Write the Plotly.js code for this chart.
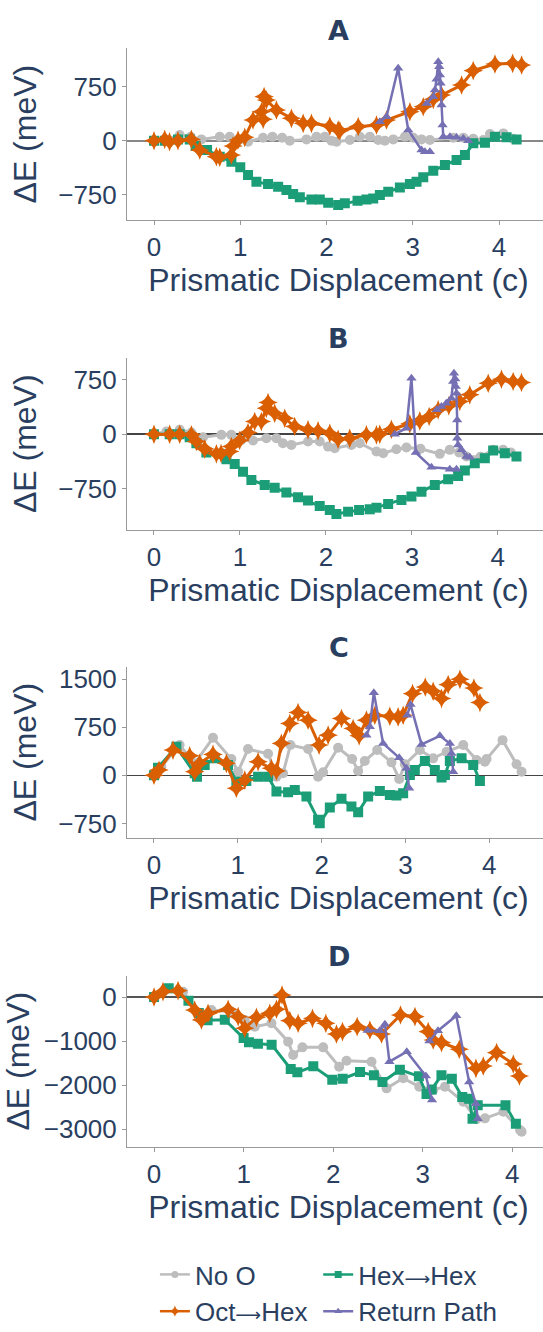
<!DOCTYPE html>
<html>
<head>
<meta charset="utf-8">
<script src="https://cdn.plot.ly/plotly-3.0.1.min.js"></script>
<style>
html,body{margin:0;padding:0;overflow:hidden;background:#fff;}
#chart{width:550px;height:1400px;}
</style>
</head>
<body>
<div id="chart"></div>
<script>
// ---------- Series names ----------
const ARW = "<span style='font-family:DejaVu Sans;font-size:18px'>\u27F6</span>";
const seriesNames = ["No O", "Hex" + ARW + "Hex", "Oct" + ARW + "Hex", "Return Path"];
const panelLabels = ["A", "B", "C", "D"];

// ---------- Panel A ----------
const A_noO_x = [0, 0.143, 0.298, 0.425, 0.549, 0.762, 0.878, 0.994, 1.09, 1.264, 1.373, 1.485, 1.574, 1.767, 1.883, 1.98, 2.057, 2.115, 2.27, 2.386, 2.502, 2.599, 2.676, 2.773, 2.908, 3.005, 3.101, 3.198, 3.469, 3.585, 3.701, 3.817, 3.894, 4.049, 4.165];
const A_noO_y = [0, 10, 78, 55, 18, 55, 55, 18, -14, 41, 55, 41, 0, 18, 55, 55, 0, -14, 9, 55, 55, 9, 0, 18, 55, 41, 18, 9, 41, 41, 28, 9, 92, 101, 28];
const A_hex_x = [0, 0.124, 0.278, 0.414, 0.483, 0.615, 0.762, 0.897, 1.0, 1.09, 1.187, 1.322, 1.439, 1.535, 1.613, 1.69, 1.825, 1.922, 2.019, 2.135, 2.212, 2.359, 2.463, 2.541, 2.618, 2.715, 2.85, 2.966, 3.043, 3.121, 3.237, 3.372, 3.507, 3.604, 3.701, 3.836, 3.952, 4.087, 4.203];
const A_hex_y = [0, 0, 18, 18, -74, -129, -221, -291, -369, -475, -567, -600, -636, -683, -738, -784, -812, -812, -858, -890, -867, -830, -812, -798, -752, -706, -646, -600, -567, -507, -415, -337, -267, -198, -37, -28, 55, 46, 18];
const A_oct_x = [0, 0.124, 0.18, 0.278, 0.433, 0.53, 0.723, 0.762, 0.897, 0.916, 0.974, 1.052, 1.148, 1.245, 1.265, 1.276, 1.303, 1.419, 1.593, 1.729, 1.825, 2.038, 2.135, 2.154, 2.367, 2.579, 2.695, 2.966, 3.121, 3.237, 3.333, 3.565, 3.70, 3.952, 4.157, 4.261];
const A_oct_y = [0, 18, -14, 0, 18, -129, -221, -230, -198, -74, 9, 46, 286, 401, 295, 609, 563, 424, 309, 240, 240, 203, 148, 138, 194, 217, 286, 401, 470, 572, 632, 770, 969, 1061, 1070, 1047];
const A_ret_x = [2.618, 2.695, 2.83, 2.947, 3.101, 3.14, 3.198, null, 3.16, 3.237, 3.256, 3.275, 3.295, 3.306, 3.314, 3.322, 3.333, 3.345, 3.353, 3.43, 3.507, 3.585, 3.643];
const A_ret_y = [263, 332, 1001, 148, -129, -152, -152, null, 516, 609, 701, 850, 1093, 1024, 908, 793, 494, 217, 55, 55, 46, 32, 0];

// ---------- Panel B ----------
const B_noO_x = [0, 0.144, 0.299, 0.435, 0.57, 0.784, 0.9, 1.016, 1.152, 1.307, 1.424, 1.5, 1.598, 1.792, 1.928, 2.025, 2.103, 2.296, 2.394, 2.588, 2.666, 2.82, 2.937, 3.1, 3.325, 3.441, 3.55, 3.635, 3.8, 3.946, 4.062, 4.15];
const B_noO_y = [0, 37, 60, 23, -41, -9, -9, -78, -87, -55, -55, -124, -147, -101, -101, -170, -193, -147, -124, -238, -261, -206, -183, -200, -270, -215, -250, -307, -308, -215, -215, -250];
const B_hex_x = [0, 0.182, 0.299, 0.415, 0.493, 0.609, 0.764, 0.842, 0.939, 1.036, 1.133, 1.288, 1.404, 1.54, 1.676, 1.792, 1.928, 2.045, 2.122, 2.258, 2.386, 2.51, 2.588, 2.724, 2.879, 2.995, 3.112, 3.267, 3.422, 3.538, 3.616, 3.732, 3.849, 3.946, 4.081, 4.217];
const B_hex_y = [0, 0, 0, -41, -124, -252, -270, -344, -408, -514, -628, -697, -734, -802, -867, -912, -986, -1041, -1096, -1064, -1041, -1032, -1009, -958, -903, -857, -789, -697, -619, -573, -500, -399, -330, -225, -261, -307];
const B_oct_x = [0, 0.182, 0.299, 0.435, 0.493, 0.59, 0.726, 0.78, 0.881, 0.9, 0.997, 1.094, 1.172, 1.249, 1.307, 1.327, 1.404, 1.521, 1.637, 1.792, 1.909, 2.045, 2.142, 2.277, 2.471, 2.588, 2.627, 2.762, 2.976, 3.092, 3.201, 3.306, 3.43, 3.558, 3.674, 3.888, 4.043, 4.178, 4.275];
const B_oct_y = [0, 0, 0, -9, -101, -202, -270, -265, -238, -170, -87, 23, 174, 174, 358, 436, 289, 220, 105, 60, 46, 14, -69, -55, -9, -9, 0, 69, 142, 183, 243, 335, 390, 449, 541, 701, 756, 724, 711];
const B_ret_x = [2.801, 2.937, 2.995, 3.046, 3.228, 3.441, 3.519, null, 3.29, 3.344, 3.40, 3.46, 3.48, 3.49, 3.505, 3.511, 3.519, 3.527, 3.527, 3.538, 3.577, 3.635, 3.674];
const B_ret_y = [0, 83, 770, -252, -454, -481, -481, null, 335, 380, 426, 495, 724, 839, 760, 656, 564, 197, -55, -147, -215, -307, -316];

// ---------- Panel C ----------
const C_noO_x = [0, 0.088, 0.306, 0.486, 0.704, 0.923, 1.003, 1.122, 1.361, 1.461, 1.54, 1.628, 1.839, 1.958, 2.018, 2.197, 2.364, 2.436, 2.515, 2.663, 2.834, 2.926, 2.993, 3.172, 3.331, 3.491, 3.69, 3.849, 3.948, 3.968, 4.159, 4.326, 4.386];
const C_noO_y = [0, 134, 471, 186, 584, 253, 57, 409, 336, -21, 31, 471, 409, -21, 47, 429, 253, 67, 222, 393, 202, -57, 171, 393, 264, 367, 471, 238, 212, 253, 548, 171, 57];
const C_hex_x = [0, 0.048, 0.267, 0.486, 0.513, 0.605, 0.724, 0.884, 0.983, 1.102, 1.242, 1.361, 1.461, 1.6, 1.68, 1.819, 1.958, 1.978, 2.098, 2.237, 2.356, 2.436, 2.555, 2.695, 2.814, 2.893, 2.973, 3.053, 3.112, 3.232, 3.351, 3.431, 3.471, 3.53, 3.67, 3.809, 3.889];
const C_hex_y = [0, 119, 445, 31, -21, 160, 264, 160, -98, -88, -21, -21, -253, -264, -228, -331, -693, -745, -502, -367, -486, -574, -331, -243, -305, -315, -279, 5, 83, 222, 83, -36, 5, 222, 264, 160, -88];
const C_oct_x = [0, 0.06, 0.227, 0.426, 0.486, 0.545, 0.704, 0.864, 0.983, 1.083, 1.242, 1.401, 1.461, 1.52, 1.62, 1.719, 1.839, 1.97, 2.078, 2.237, 2.376, 2.448, 2.535, 2.635, 2.814, 2.913, 2.973, 3.085, 3.237, 3.331, 3.431, 3.51, 3.65, 3.817, 3.889];
const C_oct_y = [0, 83, 393, 305, 57, 186, 326, 186, -202, -72, 212, 109, 67, 497, 807, 978, 859, 471, 626, 884, 729, 615, 859, 936, 921, 910, 936, 1272, 1376, 1309, 1195, 1412, 1495, 1360, 1133];
const C_ret_x = [2.535, 2.575, 2.623, 2.734, 2.926, 3.013, 3.045, null, 3.021, 3.061, 3.192, 3.411, 3.53, 3.55, 3.57];
const C_ret_y = [626, 755, 1288, 497, 274, 109, -202, null, 936, 1102, 481, 615, 497, 341, 57];

// ---------- Panel D ----------
const D_noO_x = [0, 0.1, 0.324, 0.547, 0.641, 0.864, 1.013, 1.125, 1.311, 1.497, 1.553, 1.657, 1.888, 2.067, 2.149, 2.428, 2.596, 2.782, 2.961, 3.117, 3.248, 3.453, 3.601, 3.695, 3.9, 4.086, 4.104];
const D_noO_y = [0, 121, 121, -523, -295, -333, -523, -674, -598, -1015, -1318, -1144, -1144, -1583, -1447, -1470, -2076, -1848, -2038, -2114, -2038, -2379, -2780, -2758, -2606, -3023, -3061];
const D_hex_x = [0, 0.164, 0.384, 0.5, 0.598, 0.79, 1.0, 1.06, 1.16, 1.313, 1.526, 1.6, 1.778, 1.99, 2.106, 2.3, 2.455, 2.55, 2.745, 2.957, 3.042, 3.1, 3.209, 3.325, 3.441, 3.518, 3.556, 3.614, 3.924, 4.04];
const D_hex_y = [0, 198, -84, -364, -530, -515, -932, -1030, -1061, -1083, -1636, -1712, -1576, -1879, -1856, -1705, -1780, -1932, -1652, -1803, -2204, -2100, -1780, -1856, -2273, -2311, -2765, -2462, -2462, -2879];
const D_oct_x = [0, 0.1, 0.268, 0.454, 0.529, 0.603, 0.827, 0.939, 1.013, 1.143, 1.292, 1.367, 1.429, 1.516, 1.609, 1.769, 1.918, 2.037, 2.104, 2.268, 2.41, 2.54, 2.752, 2.913, 3.061, 3.117, 3.21, 3.408, 3.594, 3.676, 3.825, 4.011, 4.079];
const D_oct_y = [0, 121, 144, -295, -523, -371, -280, -447, -712, -462, -371, -280, 45, -538, -598, -485, -598, -841, -788, -674, -750, -841, -409, -447, -788, -977, -1038, -1189, -1621, -1568, -1265, -1523, -1795];
const D_ret_x = [2.385, 2.52, 2.578, 2.628, 2.822, 3.035, 3.104, null, 3.075, 3.17, 3.375, 3.518, 3.594, 3.614];
const D_ret_y = [-764, -765, -622, -1470, -1243, -1796, -2341, null, -1000, -765, -424, -1932, -2425, -2765];

// ---------- Styling ----------
const colors = ["#bdbdbd", "#1b9e77", "#d95f02", "#7570b3"];
const symbols = ["circle", "square", "star-diamond", "triangle-up"];
const msizes = [10, 10, 14, 9];
const lwidths = [3, 3, 3, 2.5];
const legendMsizes = [7, 7, 8, 7];
const legendIds = ["legend", "legend2", "legend", "legend2"];
const textColor = "#2a3f5f";
const fontFam = "Liberation Sans, Arial, sans-serif";

const H = 1400; // layout height; the visible window is the top 1332 px
const py = v => 1 - v / H;

// pixel positions (from top) of each panel: [axis bottom, axis top], title centre
const panels = [
  {xs:[A_noO_x, A_hex_x, A_oct_x, A_ret_x], ys:[A_noO_y, A_hex_y, A_oct_y, A_ret_y],
   pix:[220, 48.3], xr:[-0.313, 4.590], yr:[-1097, 1278], dt:750, zc:"#888", zw:2, ty:31},
  {xs:[B_noO_x, B_hex_x, B_oct_x, B_ret_x], ys:[B_noO_y, B_hex_y, B_oct_y, B_ret_y],
   pix:[530, 357.5], xr:[-0.314, 4.607], yr:[-1316, 1054], dt:750, zc:"#444", zw:1.5, ty:339},
  {xs:[C_noO_x, C_hex_x, C_oct_x, C_ret_x], ys:[C_noO_y, C_hex_y, C_oct_y, C_ret_y],
   pix:[837.7, 666.7], xr:[-0.322, 4.725], yr:[-972, 1692], dt:750, zc:"#444", zw:1.5, ty:647},
  {xs:[D_noO_x, D_hex_x, D_oct_x, D_ret_x], ys:[D_noO_y, D_hex_y, D_oct_y, D_ret_y],
   pix:[1146.7, 975.7], xr:[-0.302, 4.421], yr:[-3402, 484], dt:1000, zc:"#555", zw:1.5, ty:956}
];

const traces = [];
const legendBase = {
  orientation: "v", xanchor: "left", y: py(1251), yanchor: "top",
  font: {size: 26, color: textColor, family: fontFam}, tracegroupgap: 0,
  bgcolor: "rgba(0,0,0,0)"
};
const layout = {
  width: 550, height: H,
  margin: {l: 127, r: 0, t: 0, b: 0},
  paper_bgcolor: "#fff", plot_bgcolor: "#fff",
  font: {family: fontFam, color: textColor, size: 26},
  showlegend: true,
  legend: Object.assign({}, legendBase, {x: 0.066}),
  legend2: Object.assign({}, legendBase, {x: 0.452}),
  annotations: []
};

panels.forEach((p, i) => {
  const sfx = i === 0 ? "" : String(i + 1);
  for (let s = 0; s < 4; s++) {
    traces.push({
      type: "scatter", mode: "lines+markers",
      x: p.xs[s], y: p.ys[s],
      name: seriesNames[s], legendgroup: "g" + s, showlegend: false,
      connectgaps: false,
      xaxis: "x" + sfx, yaxis: "y" + sfx,
      line: {color: colors[s], width: lwidths[s]},
      marker: {symbol: symbols[s], size: msizes[s], color: colors[s]}
    });
  }
  layout["xaxis" + sfx] = {
    domain: [0, 1], anchor: "y" + sfx, range: p.xr, autorange: false,
    tick0: 0, dtick: 1, ticks: "outside", ticklen: 4, tickcolor: "#999",
    showline: true, linecolor: "#999", linewidth: 1, showgrid: false, zeroline: false,
    tickfont: {size: 26, color: textColor, family: fontFam},
    title: {text: "Prismatic Displacement (c)", font: {size: 32, color: textColor, family: fontFam}, standoff: 7}
  };
  layout["yaxis" + sfx] = {
    domain: [py(p.pix[0]), py(p.pix[1])], anchor: "x" + sfx, range: p.yr, autorange: false,
    tick0: 0, dtick: p.dt, ticks: "outside", ticklen: 4, tickcolor: "#999",
    showline: true, linecolor: "#999", linewidth: 1, showgrid: false,
    zeroline: true, zerolinecolor: p.zc, zerolinewidth: p.zw,
    tickfont: {size: 26, color: textColor, family: fontFam},
    title: {text: "\u0394E (meV)", font: {size: 32, color: textColor, family: fontFam}, standoff: 12}
  };
  layout.annotations.push({
    text: "<b>" + panelLabels[i] + "</b>", xref: "paper", yref: "paper",
    x: 0.5, y: py(p.ty), xanchor: "center", yanchor: "middle", showarrow: false,
    font: {family: "DejaVu Sans, sans-serif", size: 27, color: textColor}
  });
});

// legend-only entries with small symbols
for (let s = 0; s < 4; s++) {
  traces.push({
    type: "scatter", mode: "lines+markers", x: [null], y: [null],
    name: seriesNames[s], legendgroup: "g" + s, showlegend: true, legend: legendIds[s],
    xaxis: "x", yaxis: "y", hoverinfo: "skip",
    line: {color: colors[s], width: 2.5},
    marker: {symbol: symbols[s], size: legendMsizes[s], color: colors[s]}
  });
}

Plotly.newPlot("chart", traces, layout, {displayModeBar: false, staticPlot: true});
</script>
</body>
</html>
